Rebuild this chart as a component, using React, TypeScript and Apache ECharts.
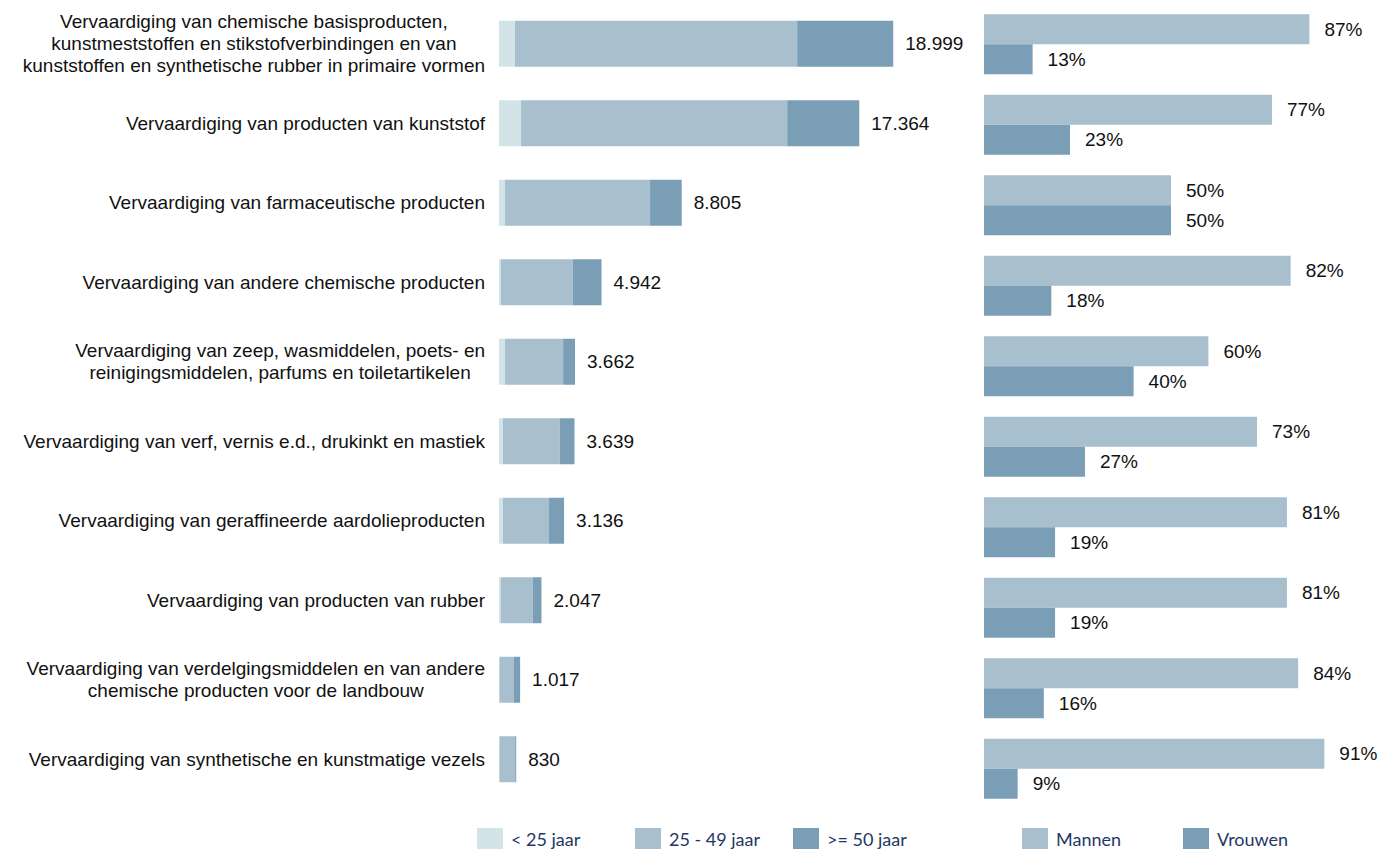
import React, { useEffect, useRef } from "react";
import * as echarts from "echarts";

const categories = [
  "Vervaardiging van chemische basisproducten,\nkunstmeststoffen en stikstofverbindingen en van\nkunststoffen en synthetische rubber in primaire vormen",
  "Vervaardiging van producten van kunststof",
  "Vervaardiging van farmaceutische producten",
  "Vervaardiging van andere chemische producten",
  "Vervaardiging van zeep, wasmiddelen, poets- en\nreinigingsmiddelen, parfums en toiletartikelen",
  "Vervaardiging van verf, vernis e.d., drukinkt en mastiek",
  "Vervaardiging van geraffineerde aardolieproducten",
  "Vervaardiging van producten van rubber",
  "Vervaardiging van verdelgingsmiddelen en van andere\nchemische producten voor de landbouw",
  "Vervaardiging van synthetische en kunstmatige vezels",
];

const under25 = [770, 1060, 290, 90, 290, 190, 190, 80, 20, 20];
const age25to49 = [13600, 12830, 6990, 3470, 2800, 2740, 2220, 1540, 680, 760];
const over50 = [4629, 3474, 1525, 1382, 572, 709, 726, 427, 317, 50];

const mannen = [87, 77, 50, 82, 60, 73, 81, 81, 84, 91];
const vrouwen = [13, 23, 50, 18, 40, 27, 19, 19, 16, 9];

const ageNames = ["< 25 jaar", "25 - 49 jaar", ">= 50 jaar"];
const genderNames = ["Mannen", "Vrouwen"];

const C1 = "#d3e4e8";
const C2 = "#a8bfcd";
const C3 = "#7b9eb7";

const totals = under25.map((v, i) => v + age25to49[i] + over50[i]);

function fmtNL(n: number): string {
  return String(n).replace(/\B(?=(\d{3})+(?!\d))/g, ".");
}

const LABEL_FONT = "'Liberation Sans', Arial, sans-serif";
const LEGEND_FONT = "Lato, 'Open Sans', sans-serif";

export default function App() {
  const ref = useRef<HTMLDivElement>(null);
  useEffect(() => {
    if (!ref.current) return;
    const chart = echarts.init(ref.current, null, { renderer: "svg" });
    const legendCommon = {
      top: 828,
      padding: 0,
      itemWidth: 26,
      itemHeight: 21,
      icon: "rect",
      selectedMode: false,
      textStyle: {
        fontSize: 18,
        color: "#1f3864",
        fontFamily: LEGEND_FONT,
        padding: [0, 0, 0, 3],
      },
    };
    const valueLabel = {
      show: true,
      position: "right",
      distance: 15,
      fontSize: 19,
      color: "#111",
      fontFamily: LABEL_FONT,
    };
    chart.setOption({
      animation: false,
      backgroundColor: "#fff",
      grid: [
        { left: 499, top: 4, width: 415, height: 795 },
        { left: 984, top: 4, width: 374, height: 805 },
      ],
      xAxis: [
        { type: "value", gridIndex: 0, min: 0, max: 20000, show: false },
        { type: "value", gridIndex: 1, min: 0, max: 100, show: false },
      ],
      yAxis: [
        {
          type: "category",
          gridIndex: 0,
          data: categories,
          inverse: true,
          axisLine: { show: false },
          axisTick: { show: false },
          splitLine: { show: false },
          axisLabel: {
            margin: 14,
            align: "right",
            formatter: (v: string) =>
              v
                .split("\n")
                .map((l) => `{c|${l}}`)
                .join("\n"),
            rich: {
              c: {
                align: "center",
                fontSize: 19,
                lineHeight: 22,
                color: "#111",
                fontFamily: LABEL_FONT,
              },
            },
          },
        },
        {
          type: "category",
          gridIndex: 1,
          data: categories,
          inverse: true,
          show: false,
        },
      ],
      legend: [
        { ...legendCommon, left: 477, data: [ageNames[0]] },
        { ...legendCommon, left: 635, data: [ageNames[1]] },
        { ...legendCommon, left: 793, data: [ageNames[2]] },
        { ...legendCommon, left: 1022, data: [genderNames[0]] },
        { ...legendCommon, left: 1183, data: [genderNames[1]] },
      ],
      series: [
        {
          name: ageNames[0],
          type: "bar",
          stack: "age",
          xAxisIndex: 0,
          yAxisIndex: 0,
          barWidth: 46,
          itemStyle: { color: C1 },
          data: under25,
        },
        {
          name: ageNames[1],
          type: "bar",
          stack: "age",
          xAxisIndex: 0,
          yAxisIndex: 0,
          barWidth: 46,
          itemStyle: { color: C2 },
          data: age25to49,
        },
        {
          name: ageNames[2],
          type: "bar",
          stack: "age",
          xAxisIndex: 0,
          yAxisIndex: 0,
          barWidth: 46,
          itemStyle: { color: C3 },
          data: over50,
          label: {
            ...valueLabel,
            distance: 12,
            formatter: (p: any) => fmtNL(totals[p.dataIndex]),
          },
        },
        {
          name: genderNames[0],
          type: "bar",
          xAxisIndex: 1,
          yAxisIndex: 1,
          barWidth: 30,
          barGap: "0%",
          itemStyle: { color: C2 },
          data: mannen,
          label: { ...valueLabel, formatter: (p: any) => `${p.value}%` },
        },
        {
          name: genderNames[1],
          type: "bar",
          xAxisIndex: 1,
          yAxisIndex: 1,
          barWidth: 30,
          barGap: "0%",
          itemStyle: { color: C3 },
          data: vrouwen,
          label: { ...valueLabel, formatter: (p: any) => `${p.value}%` },
        },
      ],
    });
    return () => chart.dispose();
  }, []);
  return (
    <div
      ref={ref}
      style={{ position: "fixed", left: 0, top: 0, width: 1393, height: 850 }}
    />
  );
}
